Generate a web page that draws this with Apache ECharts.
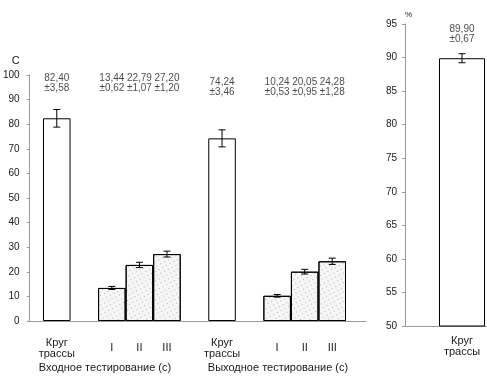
<!DOCTYPE html>
<html><head><meta charset="utf-8">
<script src="https://cdn.jsdelivr.net/npm/echarts@6/dist/echarts.min.js"></script>
<style>html,body{margin:0;padding:0;background:#fff}#c{width:487px;height:388px}</style>
</head><body><div id="c"></div>
<script>
// ---- data ----
const leftCategories = ['Круг\nтрассы', '', 'I', 'II', 'III', '', 'Круг\nтрассы', '', 'I', 'II', 'III'];
const leftMeans = [82.40, null, 13.44, 22.79, 27.20, null, 74.24, null, 10.24, 20.05, 24.28];
const leftErrors = [3.58, null, 0.62, 1.07, 1.20, null, 3.46, null, 0.53, 0.95, 1.28];
const groupTitles = ['Входное тестирование (с)', 'Выходное тестирование (с)'];
const leftTicks = {min: 0, max: 100, interval: 10};
const rightCategories = ['Круг\nтрассы'];
const rightMeans = [89.90];
const rightErrors = [0.67];
const rightTicks = {min: 50, max: 95, interval: 5};

// ---- helpers ----
const FONT = '"Liberation Sans", Arial, sans-serif';
const TXT = '#1a1a1a';
const AX = '#9a9a9a';
const fmt = v => v.toFixed(2).replace('.', ',');
const isLap = c => c.indexOf('Круг') === 0;
const STIPPLE = '#f6f6f6';
const STIPPLE_DECAL = {symbol: 'rect', symbolSize: 1, color: 'rgba(90,90,90,0.45)',
  dashArrayX: [[1, 5], [0, 3, 1, 2]], dashArrayY: [1, 2], rotation: 0.3, symbolKeepAspect: true};

function errorSeries(xi, yi, means, errs) {
  return {
    type: 'custom', xAxisIndex: xi, yAxisIndex: yi, z: 5,
    data: means.map((m, i) => m == null ? null : [i, m, errs[i]]).filter(d => d),
    renderItem(params, api) {
      const x = api.value(0), m = api.value(1), e = api.value(2);
      const t = api.coord([x, m + e]), b = api.coord([x, m - e]);
      const hw = 3.5, st = {stroke: '#000', lineWidth: 1};
      return {type: 'group', children: [
        {type: 'line', shape: {x1: t[0], y1: t[1], x2: b[0], y2: b[1]}, style: st},
        {type: 'line', shape: {x1: t[0]-hw, y1: t[1], x2: t[0]+hw, y2: t[1]}, style: st},
        {type: 'line', shape: {x1: b[0]-hw, y1: b[1], x2: b[0]+hw, y2: b[1]}, style: st}
      ]};
    }
  };
}
function labelSeries(xi, yi, means, errs, levelFn) {
  return {
    type: 'scatter', xAxisIndex: xi, yAxisIndex: yi, symbolSize: 0, z: 6, silent: true,
    data: means.map((m, i) => m == null ? null : {value: [i, levelFn(i)], txt: fmt(m) + '\n±' + fmt(errs[i])}).filter(d => d),
    label: {show: true, position: 'inside', formatter: p => p.data.txt,
      fontFamily: FONT, fontSize: 10, color: TXT, lineHeight: 10}
  };
}
function frameX(gi) {
  return {type: 'value', gridIndex: gi, min: 0, max: 1, axisLine: {show: true, lineStyle: {color: AX, width: 1}},
          axisTick: {show: false}, axisLabel: {show: false}, splitLine: {show: false}};
}

const option = {
  animation: false,
  backgroundColor: '#fff',
  grid: [
    {left: 25, top: 75, width: 341, height: 246},
    {left: 43, top: 75, width: 303, height: 246},
    {left: 405, top: 24, width: 82, height: 302},
    {left: 439, top: 24, width: 46, height: 302}
  ],
  xAxis: [
    frameX(0),
    {type: 'category', gridIndex: 1, data: leftCategories, axisLine: {show: false}, axisTick: {show: false},
     axisLabel: {interval: 0, margin: 27, verticalAlign: 'middle', fontFamily: FONT, fontSize: 11, color: TXT, lineHeight: 11}},
    frameX(2),
    {type: 'category', gridIndex: 3, data: rightCategories, axisLine: {show: false}, axisTick: {show: false},
     axisLabel: {interval: 0, margin: 20, verticalAlign: 'middle', fontFamily: FONT, fontSize: 11, color: TXT, lineHeight: 11}}
  ],
  yAxis: [
    {type: 'value', gridIndex: 0, min: leftTicks.min, max: leftTicks.max, interval: leftTicks.interval,
     name: 'С', nameLocation: 'end', nameGap: 14,
     nameTextStyle: {fontFamily: FONT, fontSize: 11, color: TXT, align: 'right', verticalAlign: 'middle', padding: [0, 10, 0, 0]},
     axisLine: {show: true, lineStyle: {color: AX, width: 1}}, axisTick: {show: true, length: 3, lineStyle: {color: AX}},
     splitLine: {show: false}, axisLabel: {margin: 10, fontFamily: FONT, fontSize: 10, color: TXT}},
    {type: 'value', gridIndex: 1, min: leftTicks.min, max: leftTicks.max, show: false},
    {type: 'value', gridIndex: 2, min: rightTicks.min, max: rightTicks.max, interval: rightTicks.interval,
     name: '%', nameLocation: 'end', nameGap: 9,
     nameTextStyle: {fontFamily: FONT, fontSize: 8, color: TXT, align: 'left', verticalAlign: 'middle', padding: [0, 0, 0, 0]},
     axisLine: {show: true, lineStyle: {color: AX, width: 1}}, axisTick: {show: true, length: 3, lineStyle: {color: AX}},
     splitLine: {show: false}, axisLabel: {margin: 8, fontFamily: FONT, fontSize: 10, color: TXT}},
    {type: 'value', gridIndex: 3, min: rightTicks.min, max: rightTicks.max, show: false}
  ],
  series: [
    {type: 'bar', xAxisIndex: 1, yAxisIndex: 1, barCategoryGap: '0%',
     data: leftMeans.map((v, i) => v == null ? null : {value: v,
       itemStyle: isLap(leftCategories[i])
         ? {color: '#fff', borderColor: '#000', borderWidth: 1}
         : {color: STIPPLE, borderColor: '#000', borderWidth: 1, decal: STIPPLE_DECAL}})},
    errorSeries(1, 1, leftMeans, leftErrors),
    labelSeries(1, 1, leftMeans, leftErrors, i => i < 6 ? 96.6 : 94.9),
    {type: 'bar', xAxisIndex: 3, yAxisIndex: 3, barCategoryGap: '0%',
     data: rightMeans.map(v => ({value: v, itemStyle: {color: '#fff', borderColor: '#000', borderWidth: 1}}))},
    errorSeries(3, 3, rightMeans, rightErrors),
    labelSeries(3, 3, rightMeans, rightErrors, () => 93.5)
  ],
  graphic: groupTitles.map((t, k) => ({type: 'text', x: k === 0 ? 105 : 278, y: 368,
    style: {text: t, fontFamily: FONT, fontSize: 11, fill: TXT, align: 'center', verticalAlign: 'middle'}}))
};
const chart = echarts.init(document.getElementById('c'), null, {renderer: 'canvas'});
chart.setOption(option);
</script></body></html>
